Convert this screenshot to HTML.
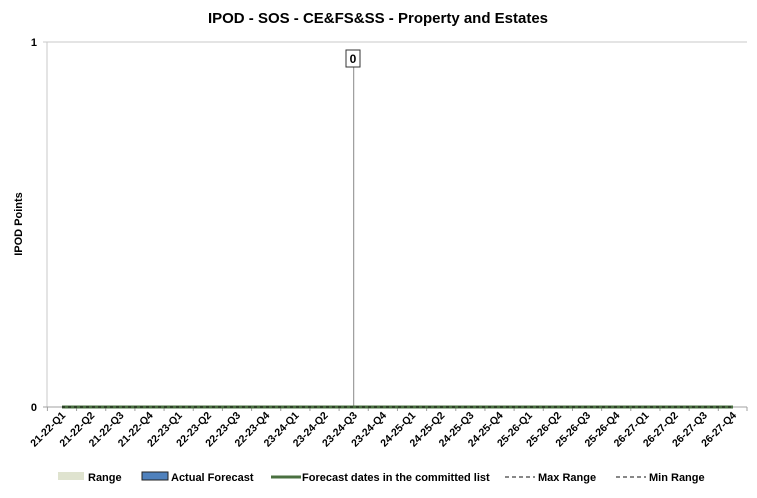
<!DOCTYPE html>
<html><head><style>
body{margin:0;background:#fff;}
svg text{font-family:"Liberation Sans",sans-serif;}
</style></head><body>
<svg width="757" height="493" xmlns="http://www.w3.org/2000/svg">
<text x="378" y="23" text-anchor="middle" font-size="15" font-weight="bold">IPOD - SOS - CE&amp;FS&amp;SS - Property and Estates</text>
<text transform="translate(22,224) rotate(-90)" text-anchor="middle" font-size="11" font-weight="bold">IPOD Points</text>
<line x1="43" y1="42" x2="747" y2="42" stroke="#c8c8c8" stroke-width="1"/>
<line x1="47" y1="42" x2="47" y2="407" stroke="#c8c8c8" stroke-width="1"/>
<line x1="43" y1="407" x2="747" y2="407" stroke="#a0a0a0" stroke-width="1"/>
<text x="37" y="46" text-anchor="end" font-size="11" font-weight="bold">1</text>
<text x="37" y="411" text-anchor="end" font-size="11" font-weight="bold">0</text>
<g id="ticks" stroke="#a0a0a0"></g>
<line x1="353.7" y1="66" x2="353.7" y2="407" stroke="#888" stroke-width="1"/>
<rect x="346" y="50" width="14" height="17" fill="#fff" stroke="#333" stroke-width="1"/>
<text x="353" y="63" text-anchor="middle" font-size="12" font-weight="bold">0</text>
<line x1="62" y1="407" x2="733" y2="407" stroke="#4a7040" stroke-width="3"/>
<line x1="62" y1="407" x2="733" y2="407" stroke="#111" stroke-width="1" stroke-dasharray="3,3"/>
<g id="labels" font-size="10.5" font-weight="bold"></g>
<rect x="58" y="472" width="26" height="8" fill="#dfe3cf"/>
<text x="88" y="481" font-size="11" font-weight="bold">Range</text>
<rect x="142" y="472" width="26" height="8" fill="#4f81bd" stroke="#222"/>
<text x="171" y="481" font-size="11" font-weight="bold">Actual Forecast</text>
<line x1="271" y1="477" x2="301" y2="477" stroke="#4a7040" stroke-width="3"/>
<text x="302" y="481" font-size="11" font-weight="bold">Forecast dates in the committed list</text>
<line x1="505" y1="477" x2="535" y2="477" stroke="#111" stroke-dasharray="4,3"/>
<text x="538" y="481" font-size="11" font-weight="bold">Max Range</text>
<line x1="616" y1="477" x2="646" y2="477" stroke="#111" stroke-dasharray="4,3"/>
<text x="649" y="481" font-size="11" font-weight="bold">Min Range</text>
</svg>
<script>
var labs=[];for(var y=21;y<=26;y++)for(var q=1;q<=4;q++)labs.push(y+"-"+(y+1)+"-Q"+q);
var t=document.getElementById("ticks"),l=document.getElementById("labels"),ns="http://www.w3.org/2000/svg";
for(var i=0;i<24;i++){var x=62+i*29.17;
var ln=document.createElementNS(ns,"line");ln.setAttribute("x1",x-14.6);ln.setAttribute("x2",x-14.6);ln.setAttribute("y1",407);ln.setAttribute("y2",411);t.appendChild(ln);
var tx=document.createElementNS(ns,"text");tx.setAttribute("text-anchor","end");tx.setAttribute("transform","translate("+(x+4)+",416) rotate(-45)");tx.textContent=labs[i];l.appendChild(tx);}
var ln=document.createElementNS(ns,"line");ln.setAttribute("x1",747);ln.setAttribute("x2",747);ln.setAttribute("y1",407);ln.setAttribute("y2",411);t.appendChild(ln);
</script>
</body></html>
